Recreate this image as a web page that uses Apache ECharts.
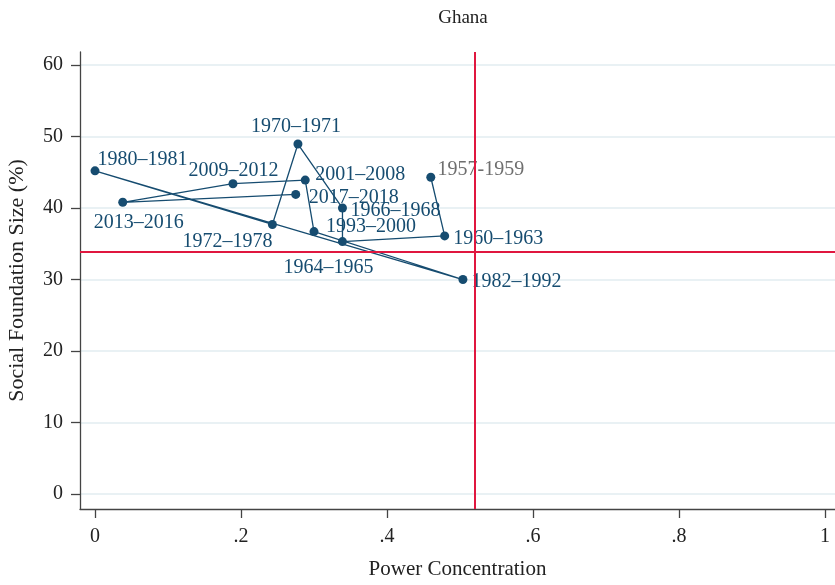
<!DOCTYPE html>
<html>
<head>
<meta charset="utf-8">
<script src="https://cdn.jsdelivr.net/npm/echarts@6/dist/echarts.min.js"></script>
<style>html,body{margin:0;padding:0;background:#fff}#c{width:835px;height:585px}</style>
</head>
<body>
<div id="c"></div>
<script>
// ---- data ----
const periods = ['1957-1959','1960–1963','1964–1965','1966–1968','1970–1971','1972–1978','1980–1981','1982–1992','1993–2000','2001–2008','2009–2012','2013–2016','2017–2018'];
const powerConcentration = [0.460, 0.479, 0.339, 0.339, 0.278, 0.243, 0.000, 0.504, 0.300, 0.288, 0.189, 0.038, 0.275];
const socialFoundation = [44.3, 36.1, 35.3, 40.0, 48.95, 37.7, 45.2, 30.0, 36.7, 43.9, 43.4, 40.8, 41.9];
const xTicks = [0, 0.2, 0.4, 0.6, 0.8, 1];
const xTickLabels = ['0', '.2', '.4', '.6', '.8', '1'];
const yTicks = [0, 10, 20, 30, 40, 50, 60];
const thresholdX = 0.519;
const thresholdY = 33.9;

// ---- layout / style config ----
const symbolSize = 9;
const labelOffsets = [[50,-8],[53.5,3],[-14,26],[53,3],[-2,-17],[-45,17],[47.5,-11],[53.5,2],[57,-5],[55,-5.5],[0.5,-12.5],[16,20],[58,3]];
const labelColors = ['#6e6e6e'];
const blue = '#164c70';
const red = '#e0173f';
const serif = '"Liberation Serif", "DejaVu Serif", serif';

const seriesData = periods.map((p, i) => ({
  value: [powerConcentration[i], socialFoundation[i]],
  name: p,
  label: {
    position: [symbolSize / 2 + labelOffsets[i][0], symbolSize / 2 + labelOffsets[i][1]],
    align: 'center',
    verticalAlign: 'middle',
    color: labelColors[i] || blue
  }
}));

const chart = echarts.init(document.getElementById('c'), null, {renderer: 'canvas'});
chart.setOption({
  animation: false,
  backgroundColor: '#fff',
  title: {
    text: 'Ghana',
    left: 458, top: 4, textAlign: 'center',
    textStyle: {fontFamily: serif, fontSize: 19, fontWeight: 'normal', color: '#222'}
  },
  grid: {left: 80, right: 0, top: 52, bottom: 76, outerBoundsMode: 'none', containLabel: false},
  xAxis: {
    type: 'value',
    min: -0.02055, max: 1.0137,
    name: 'Power Concentration',
    nameLocation: 'middle', nameGap: 50,
    nameTextStyle: {fontFamily: serif, fontSize: 21, color: '#222'},
    axisLine: {show: true, onZero: false, lineStyle: {color: '#444', width: 1.3}},
    axisTick: {show: true, length: 9, customValues: xTicks, lineStyle: {color: '#444', width: 1.3}},
    axisLabel: {
      customValues: xTicks, margin: 18,
      fontFamily: serif, fontSize: 20, color: '#222',
      formatter: (v) => { const i = xTicks.findIndex(t => Math.abs(t - v) < 1e-9); return i >= 0 ? xTickLabels[i] : ''; }
    },
    splitLine: {show: false}
  },
  yAxis: {
    type: 'value',
    min: -2.098, max: 61.82,
    name: 'Social Foundation Size (%)',
    nameLocation: 'middle', nameGap: 52,
    nameTextStyle: {fontFamily: serif, fontSize: 22, color: '#222'},
    axisLine: {show: true, onZero: false, lineStyle: {color: '#444', width: 1.3}},
    axisTick: {show: true, length: 9, customValues: yTicks, lineStyle: {color: '#444', width: 1.3}},
    axisLabel: {customValues: yTicks, margin: 17, padding: [4, 0, 0, 0], fontFamily: serif, fontSize: 20, color: '#222'},
    splitLine: {show: true, lineStyle: {color: '#e2edf0', width: 1.5}}
  },
  series: [{
    type: 'line',
    data: seriesData,
    symbol: 'circle',
    symbolSize: symbolSize,
    showAllSymbol: true,
    lineStyle: {color: blue, width: 1.3},
    itemStyle: {color: blue},
    label: {
      show: true,
      formatter: (p) => p.name,
      fontFamily: serif, fontSize: 20, color: blue
    },
    labelLayout: {hideOverlap: false},
    markLine: {
      silent: true,
      symbol: 'none',
      label: {show: false},
      lineStyle: {color: red, width: 2, type: 'solid'},
      data: [{xAxis: thresholdX}, {yAxis: thresholdY}]
    },
    z: 3
  }]
});
</script>
</body>
</html>
